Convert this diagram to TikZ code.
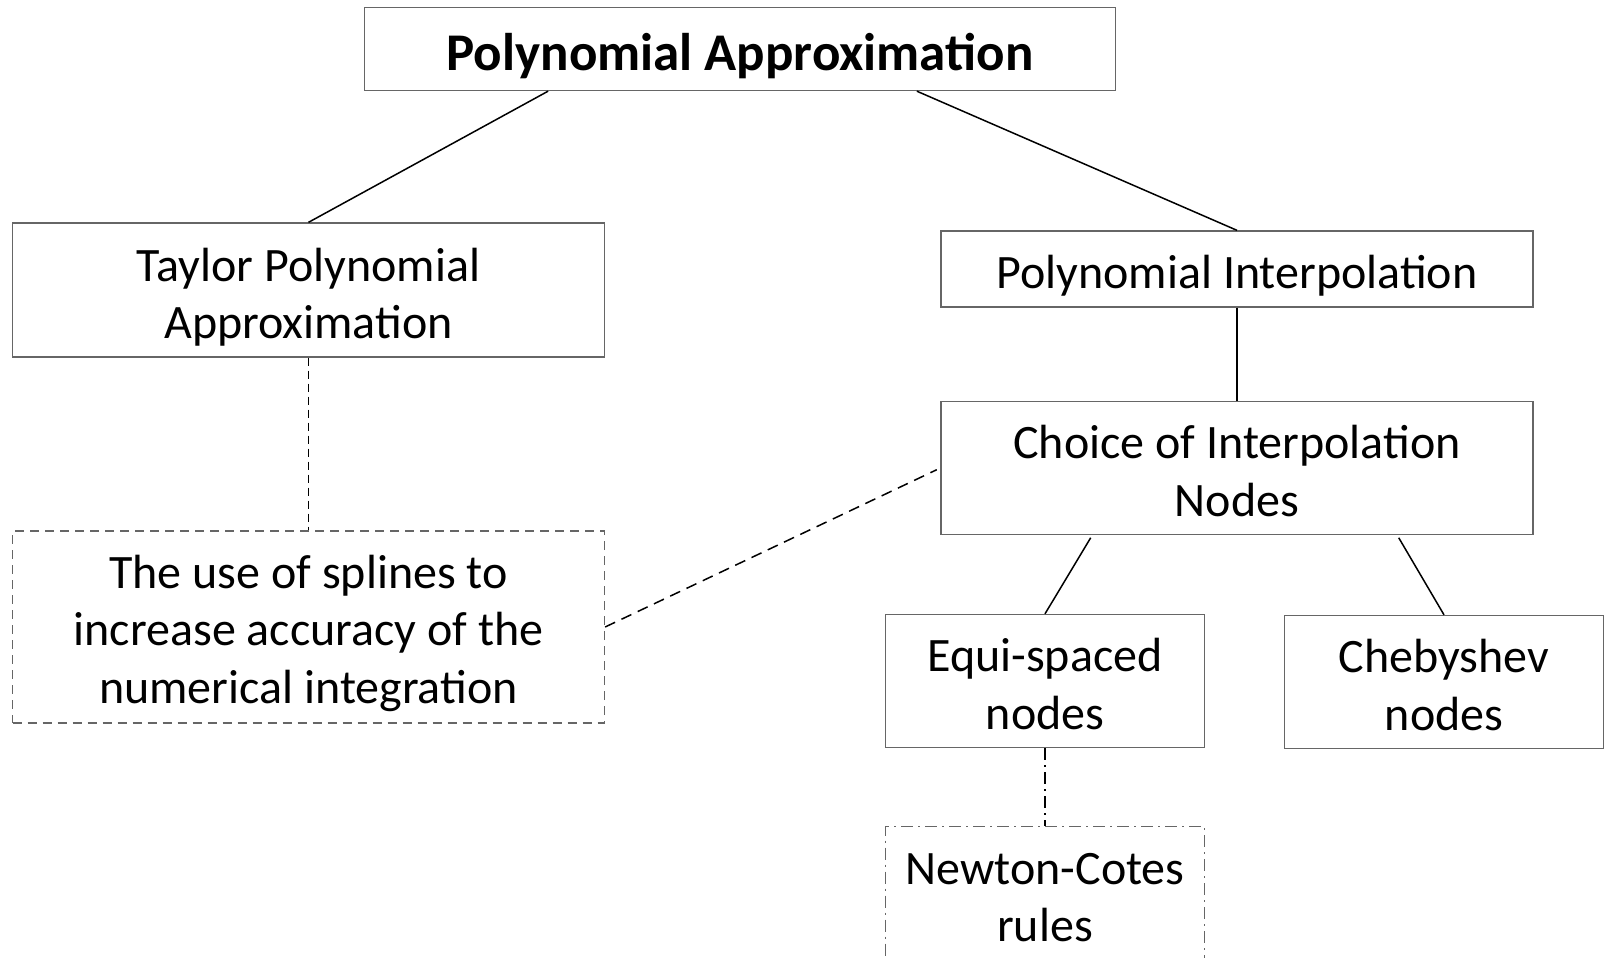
\documentclass[tikz,border=0pt]{standalone}
\usepackage{fontspec}
\setmainfont{Carlito}
\usetikzlibrary{calc}

\begin{document}
\begin{tikzpicture}[x=1pt,y=-1pt,
  box/.style={draw=black!60,line width=1.3pt,inner sep=0pt},
  txt/.style={align=center,inner sep=0pt,font=\fontsize{48}{57.5}\selectfont},
  wide/.style={box,minimum width=592pt},
  small/.style={box,minimum width=319pt,minimum height=133pt},
  dbox/.style={dash pattern=on 9pt off 6pt},
  ddbox/.style={dash pattern=on 12pt off 5pt on 2pt off 5pt},
  link/.style={line width=1.5pt}]

\useasboundingbox (0,0) rectangle (1610,958);
\clip (0,0) rectangle (1610,958);

% boxes
\node[box,minimum width=751pt,minimum height=83pt,
  label={[txt,yshift=-7pt,font=\fontsize{53}{60}\selectfont\bfseries]center:{Polynomial Approximation}}] (top) at (740,49) {};

\node[wide,minimum height=134pt,
  label={[txt,yshift=-7pt]center:{Taylor Polynomial\\Approximation}}] (taylor) at (308.5,290) {};
\node[wide,minimum height=192pt,dbox,
  label={[txt,yshift=-6pt]center:{The use of splines to\\increase accuracy of the\\numerical integration}}] (splines) at (308.5,627) {};

\node[wide,minimum height=76pt,
  label={[txt,yshift=-7pt]center:{Polynomial Interpolation}}] (inter) at (1237,269) {};
\node[wide,minimum height=133pt,
  label={[txt,yshift=-3pt]center:{Choice of Interpolation\\Nodes}}] (choice) at (1237,468) {};

\node[small,label={[txt,yshift=-3pt]center:{Equi-spaced\\nodes}}] (equi) at (1045,681) {};
\node[small,label={[txt,yshift=-3pt]center:{Chebyshev\\nodes}}] (cheb) at (1444,682) {};
\node[small,ddbox,label={[txt,yshift=-4.5pt]center:{Newton-Cotes\\rules}}] (newton) at (1045,893) {};

% connectors
\draw[link] ($(top.south west)!0.245!(top.south east)$) -- (taylor.north);
\draw[link] ($(top.south west)!0.735!(top.south east)$) -- (inter.north);
\draw[link] (inter) -- (choice);
\draw[link,shorten <=3pt] ($(choice.south west)!0.256!(choice.south east)$) -- (equi.north);
\draw[link,shorten <=3pt] ($(choice.south west)!0.77!(choice.south east)$) -- (cheb.north);
\draw[link,dash pattern=on 8pt off 5pt] (taylor) -- (splines);
\draw[link,dash pattern=on 11pt off 7pt,shorten >=4pt] (splines.east) -- (choice.west);
\draw[link,ddbox] (equi) -- (newton);

\end{tikzpicture}
\end{document}
